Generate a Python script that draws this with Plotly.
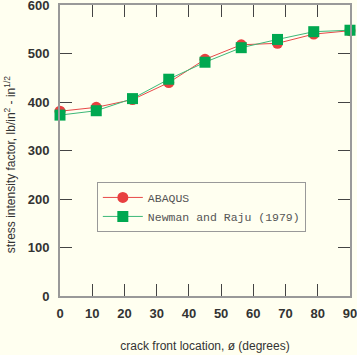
import plotly.graph_objects as go

angles = [0, 11.25, 22.5, 33.75, 45, 56.25, 67.5, 78.75, 90]
abaqus = [381, 389, 405, 440, 488, 518, 521, 540, 547]
newman = [373, 382, 407, 447, 482, 512, 529, 545, 548]
xticks = [0, 10, 20, 30, 40, 50, 60, 70, 80, 90]
yticks = [0, 100, 200, 300, 400, 500, 600]

bg = "#FFFFF0"
fig = go.Figure()
fig.add_trace(go.Scatter(x=angles, y=abaqus, name="ABAQUS", mode="lines+markers",
                         line=dict(color="#E84848", width=1),
                         marker=dict(symbol="circle", size=11, color="#E84040"),
                         cliponaxis=False))
fig.add_trace(go.Scatter(x=angles, y=newman, name="Newman and Raju (1979)", mode="lines+markers",
                         line=dict(color="#3CB878", width=1),
                         marker=dict(symbol="square", size=11, color="#00A850"),
                         cliponaxis=False))

tickfont = dict(family="Arial, Liberation Sans", size=13, color="#333333", weight="bold")
axis_common = dict(showgrid=False, zeroline=False, showline=True, linecolor="#999999",
                   linewidth=2, mirror="ticks", ticks="inside", ticklen=12, tickwidth=1,
                   tickcolor="#444444", tickfont=tickfont, ticklabeloverflow="allow",
                   automargin=False)

fig.update_xaxes(range=[0, 90], tickvals=xticks, **axis_common, ticklabelstandoff=4,
                 title=dict(text="crack front location, ø (degrees)", standoff=22,
                            font=dict(family="Arial, Liberation Sans", size=12, color="#333333")))
fig.update_yaxes(range=[0, 600], tickvals=yticks, **axis_common, ticklabelstandoff=6)

fig.add_annotation(text="stress intensity factor, lb/in<sup>2</sup> - in<sup>1/2</sup>",
                   xref="paper", yref="paper", x=-0.172, y=0.45, xanchor="center", yanchor="middle",
                   textangle=-90, showarrow=False,
                   font=dict(family="Arial, Liberation Sans", size=12, color="#333333"))

fig.update_layout(width=357, height=355, margin=dict(l=60, r=7, t=5, b=59, autoexpand=False),
                  paper_bgcolor=bg, plot_bgcolor=bg,
                  legend=dict(x=0.127, y=0.392, xanchor="left", yanchor="top",
                              bgcolor=bg, bordercolor="#999999", borderwidth=1,
                              font=dict(family="Courier New, Liberation Mono", size=11.5, color="#555555"),
                              tracegroupgap=0, itemwidth=40),
                  showlegend=True)
fig.write_html("out.html", config={"displayModeBar": False},
               post_script="document.body.style.margin='0';document.body.style.background='%s';" % bg)
